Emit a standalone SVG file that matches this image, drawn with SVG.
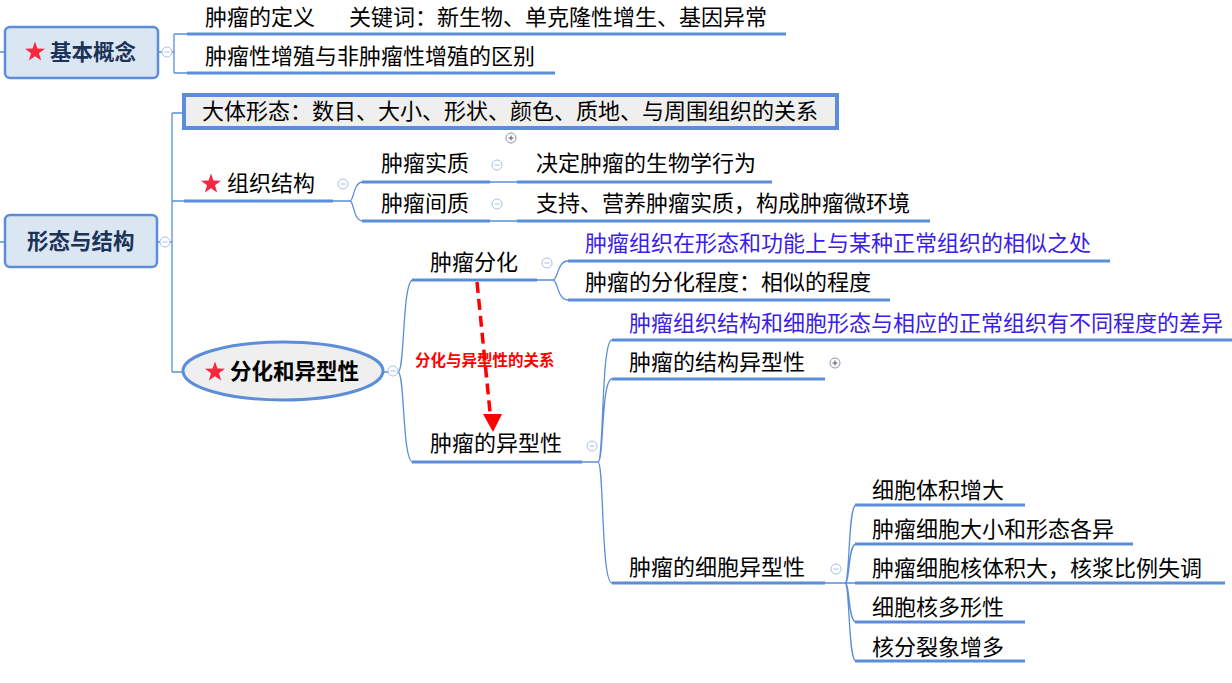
<svg xmlns="http://www.w3.org/2000/svg" xmlns:xlink="http://www.w3.org/1999/xlink" width="1232" height="683" viewBox="0 0 1232 683">
<style>
.t{font-family:"Noto Sans CJK SC","Liberation Sans",sans-serif;font-size:22px;fill:#000}
.b{font-weight:bold;fill:#1c3358;font-size:21.5px}
.bk{font-weight:bold;fill:#000;font-size:21.5px}
.blue{fill:#3b1de6}
.red{font-family:"Noto Sans CJK SC","Liberation Sans",sans-serif;font-size:15.5px;font-weight:bold;fill:#ff0000}
.ul{stroke:#5b8dd9;stroke-width:3;fill:none}
.ln{stroke:#5b8dd9;stroke-width:1.3;fill:none}
.box{fill:#dbe6f3;stroke:#5b8dd9;stroke-width:2.5}
</style>
<defs>
<polygon id="star" points="0,-10.5 2.47,-3.4 9.99,-3.24 3.99,1.3 6.17,8.49 0,4.2 -6.17,8.49 -3.99,1.3 -9.99,-3.24 -2.47,-3.4" fill="#f5283f"/>
<g id="minus"><circle r="5" fill="#fff" stroke="#a9bfe8" stroke-width="1"/><line x1="-2.5" y1="0" x2="2.5" y2="0" stroke="#a9bfe8" stroke-width="1"/></g>
<g id="plus"><circle r="5" fill="#fff" stroke="#8a94a8" stroke-width="1"/><line x1="-2.5" y1="0" x2="2.5" y2="0" stroke="#555" stroke-width="1"/><line x1="0" y1="-2.5" x2="0" y2="2.5" stroke="#555" stroke-width="1"/></g>
</defs>

<g id="connectors">
<path class="ln" d="M0,52 H5 M0,242 H5"/>
<path class="ln" d="M158,52 H174 M174,34 V73 M174,34 H187 M174,73 H187"/>
<path class="ul" d="M187,34 H786 M187,73 H555"/>
<path class="ln" d="M157,242 H172 M172,113 V372 M172,113 H183 M172,201 H184 M172,372 H183"/>
<path class="ul" d="M184,201 H333"/>
<path class="ln" d="M333,201 H350 M350,201 C354,201 353,182 363,182 M350,201 C354,201 353,221 363,221"/>
<path class="ul" d="M362,182 H490 M362,221 H490 M517,182 H772 M517,221 H930"/>
<path class="ln" d="M490,182 H517 M490,221 H517"/>
<path class="ln" d="M383,372 H398 M398,372 C405,372 402,280 413,280 M398,372 C405,372 402,462 413,462"/>
<path class="ul" d="M412,280 H537 M412,462 H582"/>
<path class="ln" d="M537,280 H553 M553,280 C558,280 557,261 568,261 M553,280 C558,280 557,300 568,300"/>
<path class="ul" d="M568,261 H1110 M568,300 H890"/>
<path class="ln" d="M582,462 H598 M598,462 C604,462 601,340 612,340 M598,462 C604,462 601,379 612,379 M598,462 C604,462 601,583 612,583"/>
<path class="ul" d="M612,340 H1232 M612,379 H825 M612,583 H825"/>
<path class="ln" d="M825,583 H845 M845,583 C850,583 848,505 856,505 M845,583 C850,583 848,544 856,544 M845,583 H856 M845,583 C850,583 848,622 856,622 M845,583 C850,583 848,661 856,661"/>
<path class="ul" d="M855,505 H1025 M855,544 H1133 M855,583 H1225 M855,622 H1025 M855,661 H1025"/>
<path d="M477,282 L490,412" stroke="#ff0000" stroke-width="3.5" stroke-dasharray="11,6" fill="none"/>
<path d="M483,414 L502,414 L493,432 Z" fill="#ff0000"/>
</g>

<g id="n-jbgn"><rect class="box" x="5" y="27" width="153" height="51" rx="5"/><use xlink:href="#star" x="35" y="52"/><text class="t b" x="50" y="59.5">基本概念</text><use xlink:href="#minus" x="167" y="52"/></g>
<g id="n-dingyi"><text class="t" x="205" y="25">肿瘤的定义<tspan x="349">关键词：新生物、单克隆性增生、基因异常</tspan></text></g>
<g id="n-qubie"><text class="t" x="205" y="64">肿瘤性增殖与非肿瘤性增殖的区别</text></g>

<g id="n-xtyjg"><rect class="box" x="5" y="215" width="152" height="52" rx="5"/><text class="t b" x="27" y="249">形态与结构</text><use xlink:href="#minus" x="165" y="242"/></g>
<g id="n-dtxt"><rect x="184" y="95" width="653" height="33" fill="#efefef" stroke="#5b8dd9" stroke-width="4"/><text class="t" x="202" y="119">大体形态：数目、大小、形状、颜色、质地、与周围组织的关系</text><use xlink:href="#plus" x="511" y="138"/></g>
<g id="n-zzjg"><use xlink:href="#star" x="211" y="184"/><text class="t" x="227" y="191">组织结构</text><use xlink:href="#minus" x="343" y="184"/></g>
<g id="n-szsz"><text class="t" x="381" y="171">肿瘤实质</text><use xlink:href="#minus" x="497" y="165"/></g>
<g id="n-szjz"><text class="t" x="381" y="211">肿瘤间质</text><use xlink:href="#minus" x="497" y="204"/></g>
<g id="n-jueding"><text class="t" x="536" y="171">决定肿瘤的生物学行为</text></g>
<g id="n-zhichi"><text class="t" x="536" y="211">支持、营养肿瘤实质，构成肿瘤微环境</text></g>

<g id="n-fhhyxx"><ellipse cx="283" cy="371" rx="100" ry="29" fill="#efefef" stroke="#5b8dd9" stroke-width="3"/><use xlink:href="#star" x="215" y="372"/><text class="t bk" x="230" y="379">分化和异型性</text><use xlink:href="#minus" x="393" y="371"/></g>
<g id="n-szfh"><text class="t" x="430" y="270">肿瘤分化</text><use xlink:href="#minus" x="547" y="263"/></g>
<g id="n-xiangsi"><text class="t blue" x="585" y="251">肿瘤组织在形态和功能上与某种正常组织的相似之处</text></g>
<g id="n-fhcd"><text class="t" x="585" y="290">肿瘤的分化程度：相似的程度</text></g>
<g id="n-rel"><text class="red" x="415" y="366">分化与异型性的关系</text></g>
<g id="n-yxx"><text class="t" x="430" y="451">肿瘤的异型性</text><use xlink:href="#minus" x="592" y="446"/></g>
<g id="n-chayi"><text class="t blue" x="629" y="331">肿瘤组织结构和细胞形态与相应的正常组织有不同程度的差异</text></g>
<g id="n-jgyxx"><text class="t" x="629" y="370">肿瘤的结构异型性</text><use xlink:href="#plus" x="835" y="363"/></g>
<g id="n-xbyxx"><text class="t" x="629" y="575">肿瘤的细胞异型性</text><use xlink:href="#minus" x="836" y="569"/></g>
<g id="n-c1"><text class="t" x="872" y="498">细胞体积增大</text></g>
<g id="n-c2"><text class="t" x="872" y="537">肿瘤细胞大小和形态各异</text></g>
<g id="n-c3"><text class="t" x="872" y="576">肿瘤细胞核体积大，核浆比例失调</text></g>
<g id="n-c4"><text class="t" x="872" y="615">细胞核多形性</text></g>
<g id="n-c5"><text class="t" x="872" y="655">核分裂象增多</text></g>
</svg>
